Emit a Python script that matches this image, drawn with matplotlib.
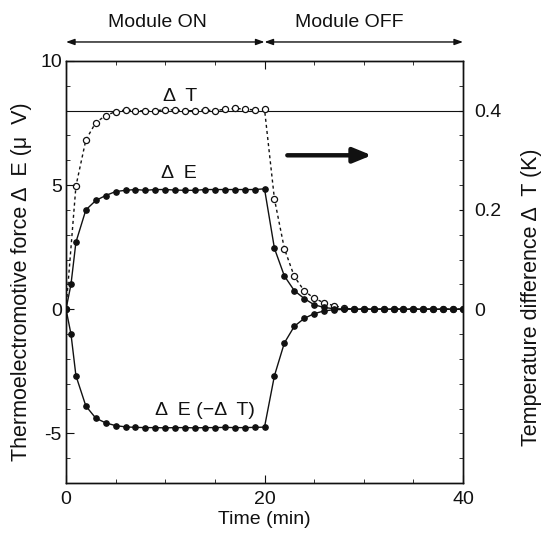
import numpy as np
import matplotlib
matplotlib.use('Agg')
import matplotlib.pyplot as plt
from matplotlib.ticker import MultipleLocator, FixedLocator

plt.rcParams['font.family'] = ['Liberation Sans', 'DejaVu Sans']
plt.rcParams['axes.unicode_minus'] = False

# time axis for the thermoelectromotive force (min)
t_E = [0, 0.5] + list(range(1, 41))
# upper curve: dE with the normal gradient (uV)
dE = [0, 1.0, 2.7, 4.0, 4.38, 4.58, 4.74,
      4.79, 4.82, 4.79, 4.82, 4.82, 4.80, 4.79, 4.79, 4.82, 4.82, 4.82, 4.82, 4.82, 4.82, 4.85,
      2.45, 1.34, 0.75, 0.43, 0.18, 0.07,
      0.02, 0.01, 0, 0, 0, 0, 0, 0, 0, 0, 0, 0, 0, 0]
# lower curve: dE with the reversed gradient (uV)
dE_rev = [0, -1.0, -2.68, -3.9, -4.39, -4.58, -4.69,
          -4.74, -4.76, -4.77, -4.77, -4.78, -4.77, -4.77, -4.78, -4.77, -4.77, -4.76, -4.77, -4.77, -4.76, -4.75,
          -2.68, -1.36, -0.69, -0.37, -0.18, -0.07,
          -0.02, -0.01, 0, 0, 0, 0, 0, 0, 0, 0, 0, 0, 0, 0]
# temperature difference (K)
t_T = list(range(0, 41))
dT = [0, 0.248, 0.341, 0.376, 0.390, 0.398,
      0.4015, 0.400, 0.3995, 0.400, 0.4015, 0.4015, 0.3995, 0.400, 0.4015, 0.3995,
      0.403, 0.4045, 0.403, 0.4015, 0.403,
      0.222, 0.122, 0.066, 0.037, 0.022, 0.013, 0.007,
      0.002, 0, 0, 0, 0, 0, 0, 0, 0, 0, 0, 0, 0]

fs = 14
ink = '#111111'

fig = plt.figure(figsize=(5.46, 5.40), dpi=100)
ax = fig.add_axes([0.1209, 0.1056, 0.7271, 0.7815])
ax2 = ax.twinx()

# primary axes above the twin so the filled dots sit on top
ax.set_zorder(2)
ax.patch.set_visible(False)

ax.plot(t_E, dE, '-', color=ink, lw=1.0, marker='o', ms=3.8, mfc=ink, mec=ink, zorder=3)
ax.plot(t_E, dE_rev, '-', color=ink, lw=1.0, marker='o', ms=3.8, mfc=ink, mec=ink, zorder=3)
ax2.plot(t_T, dT, color=ink, lw=1.0, ls=(0, (2.2, 2.2)), marker='o', ms=4.4,
         mfc='white', mec=ink, mew=0.9, zorder=2)
ax2.axhline(0.4, color=ink, lw=0.8, zorder=1)

ax.set_xlim(0, 40)
ax.set_ylim(-7, 10)
ax2.set_ylim(-0.35, 0.5)

ax.xaxis.set_major_locator(FixedLocator([0, 20, 40]))
ax.xaxis.set_minor_locator(FixedLocator([5, 10, 15, 25, 30, 35]))
ax.yaxis.set_major_locator(FixedLocator([-5, 0, 5, 10]))
ax.yaxis.set_major_formatter(plt.FuncFormatter(lambda v, p: f'{v:g}'))
ax.yaxis.set_minor_locator(MultipleLocator(1))
ax2.yaxis.set_major_locator(FixedLocator([0, 0.2, 0.4]))
ax2.yaxis.set_major_formatter(plt.FuncFormatter(lambda v, p: f'{v:g}'))
ax2.yaxis.set_minor_locator(MultipleLocator(0.05))

ax.tick_params(axis='x', which='both', direction='in', top=True, labelsize=fs, colors=ink, pad=6)
ax.tick_params(axis='x', which='major', length=6)
ax.tick_params(axis='x', which='minor', length=3)
ax.tick_params(axis='y', which='both', direction='in', right=False, labelsize=fs, colors=ink, pad=3)
ax.tick_params(axis='y', which='major', length=6)
ax.tick_params(axis='y', which='minor', length=3)
ax2.tick_params(axis='y', which='both', direction='in', labelsize=fs, colors=ink, length=3, pad=8)

for a in (ax, ax2):
    for s in a.spines.values():
        s.set_color(ink)
        s.set_linewidth(1.0)

ax.set_xlabel('Time (min)', fontsize=fs, color=ink)
ax.xaxis.set_label_coords(0.5, -0.066)
ax.set_ylabel('Thermoelectromotive force Δ  E (μ  V)', fontsize=15.5, color=ink)
ax.yaxis.set_label_coords(-0.086, 0.476)
ax2.set_ylabel('Temperature difference Δ  T (K)', fontsize=15.5, color=ink)
ax2.yaxis.set_label_coords(1.145, 0.44)

# curve labels
ax.text(11.5, 8.55, 'Δ  T', fontsize=fs, color=ink, ha='center', va='center')
ax.text(11.4, 5.45, 'Δ  E', fontsize=fs, color=ink, ha='center', va='center')
ax.text(14.0, -4.1, 'Δ  E (−Δ  T)', fontsize=fs, color=ink, ha='center', va='center')

# big arrow pointing to the right axis
ax.annotate('', xy=(30.8, 6.2), xytext=(22.3, 6.2),
            arrowprops=dict(arrowstyle='-|>,head_length=1.1,head_width=0.45',
                            lw=3.2, color=ink, shrinkA=0, shrinkB=0))

# module on / off arrows above the axes
trans = ax.get_xaxis_transform()
for x0, x1, xt, lab in [(0, 20, 9.2, 'Module ON'), (20, 40, 28.5, 'Module OFF')]:
    ax.annotate('', xy=(x1, 1.045), xytext=(x0, 1.045), xycoords=trans, textcoords=trans,
                arrowprops=dict(arrowstyle='<|-|>,head_length=0.5,head_width=0.18',
                                lw=1.0, color=ink, shrinkA=0, shrinkB=0),
                annotation_clip=False)
    ax.text(xt, 1.092, lab, transform=trans, fontsize=fs, color=ink,
            ha='center', va='center')

fig.savefig('out.png', dpi=100)
